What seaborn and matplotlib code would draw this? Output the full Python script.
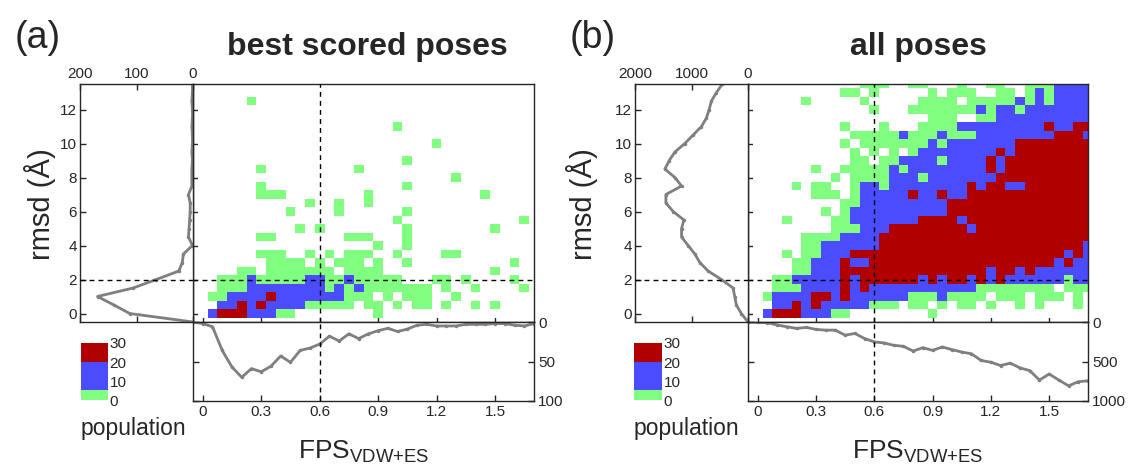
import numpy as np
import pandas as pd
import matplotlib
matplotlib.use('Agg')
import matplotlib.pyplot as plt
from matplotlib.colors import ListedColormap, BoundaryNorm
import seaborn as sns

sns.set_theme(style='ticks')
plt.rcParams['font.family'] = ['Liberation Sans', 'DejaVu Sans']
plt.rcParams['mathtext.fontset'] = 'custom'
plt.rcParams['mathtext.rm'] = 'Liberation Sans'
plt.rcParams['mathtext.it'] = 'Liberation Sans:italic'
plt.rcParams['mathtext.bf'] = 'Liberation Sans:bold'

# ---------------- data ----------------
FPS_CENTERS = [0.0, 0.05, 0.1, 0.15, 0.2, 0.25, 0.3, 0.35, 0.4, 0.45, 0.5, 0.55,
               0.6, 0.65, 0.7, 0.75, 0.8, 0.85, 0.9, 0.95, 1.0, 1.05, 1.1, 1.15,
               1.2, 1.25, 1.3, 1.35, 1.4, 1.45, 1.5, 1.55, 1.6, 1.65, 1.7]
RMSD_CENTERS = [0.0, 0.5, 1.0, 1.5, 2.0, 2.5, 3.0, 3.5, 4.0, 4.5, 5.0, 5.5, 6.0, 6.5,
                7.0, 7.5, 8.0, 8.5, 9.0, 9.5, 10.0, 10.5, 11.0, 11.5, 12.0, 12.5, 13.0, 13.5]

# population level per cell, rows from rmsd 0 (bottom) to 13.5 (top)
# '.' empty, 'g' low, 'b' medium, 'r' high
GRID_A = [
    ".brrrbbbgg........g................",
    "..bbrbrbbbbggggg.gg.g.gg.g..g.g....",
    ".ggbbbbrbbbbbbbggg.g.ggg..g........",
    "..gggbbbbbbbbgbgbggggggg.g..g....g.",
    "..gggbgggggbbggbggggg...gg.g....g..",
    "....gg.ggggggg.gggg...........g....",
    ".......gggg.g.ggg.g..g..........g..",
    "......ggg..g.g.ggg..g....gg........",
    "..................g..g.............",
    "......gg.......ggg...g.............",
    "..........g.g........g........g....",
    "....................g............g.",
    ".........g....g......g.............",
    "...........g..g..g.................",
    "......ggg........g...........g.....",
    "......g..............g.............",
    "..........................g........",
    "......g.........g..................",
    ".....................g.............",
    "...................................",
    "........................g..........",
    "...................................",
    "....................g..............",
    "...................................",
    "...................................",
    ".....g.............................",
    "...................................",
    "...................................",
]

GRID_B = [
    ".brrrbbbgg........g................",
    "..bbrbrbbbbbggg.gg.g.gg.g..g.g...g.",
    ".gbbbbrrbrbbbbbbgggbgggg.ggg.ggg.g.",
    "..gggbbbbrbrbbbbbbbbbbbgggggggg.ggg",
    "..ggbbbbbrbrrrrrrbrbrrbrbrbbbbbbgbb",
    "....ggbbbrrrrrrrrrrrrrrrbrrbrbbbbbb",
    "....ggbbbrbbrrrrrrrrrrrrrrrrrrrbrbb",
    "...g.ggbbbrrrrrrrrrrrrrrrrrrrrrrbrb",
    ".....ggbbbbbbrrrrrrrrrrrrrrrrrrrrrb",
    ".....ggggbbbbrrrrrrrrrrrrrrrrrrrrrr",
    "........gggbbbrrrrrrrrbrrrrrrrrrrrr",
    "...g....ggbbbbbbbrrrrbrrrrrrrrrrrrr",
    ".......g.gbbbbbbbbbbrrrrrrrrrrrrrrr",
    ".........ggbbbbbbbbbrrrrrrrrrrrrrrr",
    "......ggg.gbbbbbrbbrbbrrrrrrrrrrrrr",
    "....g.gg..gbbgbbbbbbbbrbrrbbrrrrrrr",
    "........g.ggggbbbgbbbbbbbrrrrrrrrrr",
    "......g..gggggbgbbbbbbbbrbrrrrrrrrr",
    "..........gg.ggbbbbgbbbbrbrrrrrrrrr",
    "..........g.g.g.gbbbbbbbbrbrrrrrrrr",
    ".........g.gggggggbgbbbbbbbrrrrrrrr",
    "..........gggggbgggbgggbbbbbbbbrrrb",
    ".........g...g...ggggbbbbbbbbbrbbrr",
    "..................ggg..ggbbbbbbbbbb",
    "............g...gggggggbgbbgbbbbbbb",
    ".....g.....g.....gggg.gggggbgbgbbbb",
    ".........gg.g.....g.ggg..gg.gbgbbbb",
    "...........ggg..gg...g..gg..gggbbbb",
]

LEVEL_COUNTS = {'.': 0, 'g': 3, 'b': 12, 'r': 25}
CELL_COLORS = ['#FFFFFF', '#80FF80', '#4C4CFF', '#B00000']
CBAR_BOUNDS = [0, 0.5, 5.5, 20, 30]
CBAR_TICKS = [0, 10, 20, 30]

MARG_RMSD = [-0.5, 0.0, 0.5, 1.0, 1.5, 2.0, 2.5, 3.0, 3.5, 4.0, 4.5, 5.0, 5.5, 6.0, 6.5,
             7.0, 7.5, 8.0, 8.5, 9.0, 9.5, 10.0, 10.5, 11.0, 11.5, 12.0, 12.5, 13.0, 13.5]
A_RMSD_POP = [0, 112, 140, 169, 106, 65, 25, 19, 17, 1, 8, 7, 6, 5, 5,
              8, 2, 2, 2, 1, 2, 1, 1, 2, 1, 1, 2, 1, 1]
B_RMSD_POP = [0, 118, 206, 235, 265, 471, 706, 853, 941, 1059, 1176, 1176, 1135, 1324, 1453,
              1453, 1176, 1294, 1471, 1394, 1294, 1118, 971, 824, 735, 688, 647, 559, 453]

MARG_FPS = [-0.05, 0.0, 0.05, 0.1, 0.15, 0.2, 0.25, 0.3, 0.35, 0.4, 0.45, 0.5, 0.55, 0.6,
            0.65, 0.7, 0.75, 0.8, 0.85, 0.9, 0.95, 1.0, 1.05, 1.1, 1.15, 1.2, 1.25, 1.3,
            1.35, 1.4, 1.45, 1.5, 1.55, 1.6, 1.65, 1.7]
A_FPS_POP = [0, 2, 6, 36, 57, 70, 59, 63, 56, 43, 51, 36, 33, 28, 18, 24, 15, 21, 15, 11,
             8, 12, 9, 4, 3, 5, 5, 5, 3, 3, 3, 2, 2, 4, 5, 2]
B_FPS_POP = [0, 5, 9, 38, 60, 81, 68, 94, 103, 103, 167, 145, 209, 252, 265, 295, 308, 368,
             325, 359, 316, 350, 380, 402, 487, 509, 551, 521, 581, 615, 735, 658, 735, 808,
             756, 744]

X_TICKS = [0, 0.3, 0.6, 0.9, 1.2, 1.5]
X_TICKLABELS = ['0', '0.3', '0.6', '0.9', '1.2', '1.5']
Y_TICKS = [0, 2, 4, 6, 8, 10, 12]
Y_TICKLABELS = ['0', '2', '4', '6', '8', '10', '12']
FPS_LIM = (-0.05, 1.7)
RMSD_LIM = (-0.5, 13.5)
RMSD_CUT = 2.0
FPS_CUT = 0.6

PANELS = [
    dict(letter='(a)', title='best scored poses', grid=GRID_A,
         rmsd_pop=A_RMSD_POP, fps_pop=A_FPS_POP,
         left_max=200, left_ticks=[200, 100, 0], bottom_max=100, bottom_ticks=[0, 50, 100],
         px_left=80, px_main=193, px_right=534, px_cbar=(81, 108),
         px_letter=15, px_title=367, px_ylabel=40),
    dict(letter='(b)', title='all poses', grid=GRID_B,
         rmsd_pop=B_RMSD_POP, fps_pop=B_FPS_POP,
         left_max=2000, left_ticks=[2000, 1000, 0], bottom_max=1000, bottom_ticks=[0, 500, 1000],
         px_left=635, px_main=748, px_right=1088, px_cbar=(634, 662),
         px_letter=570, px_title=918, px_ylabel=582),
]

# ---------------- layout ----------------
W, H = 1128, 470
PX_TOP, PX_MID, PX_BOT = 84, 322, 401
PX_CB_TOP = 343


def rect(x0, y0, x1, y1):
    return [x0 / W, 1 - y1 / H, (x1 - x0) / W, (y1 - y0) / H]


fig = plt.figure(figsize=(W / 100, H / 100), dpi=100)
cmap = ListedColormap(CELL_COLORS)
norm = BoundaryNorm(CBAR_BOUNDS, cmap.N)
LINE_C = '#7f7f7f'
SPINE_C = '#262626'
TICK_FS = 11
DASH = dict(color='black', lw=1.0, ls=(0, (3.5, 3)), zorder=6)

dx = FPS_CENTERS[1] - FPS_CENTERS[0]
dy = RMSD_CENTERS[1] - RMSD_CENTERS[0]


def xpos(v):
    return (v - FPS_CENTERS[0]) / dx + 0.5


def ypos(v):
    return (v - RMSD_CENTERS[0]) / dy + 0.5


def style_spines(ax):
    for s in ax.spines.values():
        s.set_visible(True)
        s.set_color(SPINE_C)
        s.set_linewidth(1.0)


for p in PANELS:
    # ---- main heatmap ----
    ax = fig.add_axes(rect(p['px_main'], PX_TOP, p['px_right'], PX_MID))
    rows = [row.ljust(len(FPS_CENTERS), '.')[:len(FPS_CENTERS)] for row in p['grid']]
    df = pd.DataFrame([[LEVEL_COUNTS[c] for c in row] for row in rows],
                      index=RMSD_CENTERS, columns=FPS_CENTERS)
    sns.heatmap(df, ax=ax, cmap=cmap, norm=norm, cbar=False,
                xticklabels=False, yticklabels=False, linewidths=0)
    ax.set_xlim(xpos(FPS_LIM[0]), xpos(FPS_LIM[1]))
    ax.set_ylim(ypos(RMSD_LIM[0]), ypos(RMSD_LIM[1]))
    ax.set_xticks([xpos(t) for t in X_TICKS])
    ax.set_yticks([ypos(t) for t in Y_TICKS])
    ax.set_xticklabels([])
    ax.set_yticklabels([])
    ax.set_xlabel('')
    ax.set_ylabel('')
    ax.tick_params(direction='in', length=4, width=1, color=SPINE_C,
                   top=True, bottom=True, left=True, right=True)
    style_spines(ax)
    ax.axhline(ypos(RMSD_CUT), **DASH)
    ax.axvline(xpos(FPS_CUT), **DASH)

    # ---- left marginal (rmsd distribution) ----
    axl = fig.add_axes(rect(p['px_left'], PX_TOP, p['px_main'], PX_MID))
    sns.lineplot(x=p['rmsd_pop'], y=MARG_RMSD, sort=False, estimator=None, ax=axl,
                 color=LINE_C, lw=2, marker='o', markersize=2.5, markeredgewidth=0)
    axl.set_xlim(p['left_max'], 0)
    axl.set_ylim(*RMSD_LIM)
    axl.set_xticks(p['left_ticks'])
    axl.set_xticklabels([str(t) for t in p['left_ticks']])
    axl.set_yticks(Y_TICKS)
    axl.set_yticklabels(Y_TICKLABELS)
    axl.xaxis.tick_top()
    axl.tick_params(direction='in', length=4, width=1, color=SPINE_C, labelsize=TICK_FS,
                    top=True, bottom=True, left=True, right=False,
                    labeltop=True, labelbottom=False, labelleft=True, pad=2)
    axl.set_xlabel('')
    axl.set_ylabel('')
    style_spines(axl)
    axl.axhline(RMSD_CUT, **DASH)

    # ---- bottom marginal (FPS distribution) ----
    axb = fig.add_axes(rect(p['px_main'], PX_MID, p['px_right'], PX_BOT))
    sns.lineplot(x=MARG_FPS, y=p['fps_pop'], sort=False, estimator=None, ax=axb,
                 color=LINE_C, lw=2, marker='o', markersize=2.5, markeredgewidth=0)
    axb.set_xlim(*FPS_LIM)
    axb.set_ylim(p['bottom_max'], 0)
    axb.set_xticks(X_TICKS)
    axb.set_xticklabels(X_TICKLABELS)
    axb.set_yticks(p['bottom_ticks'])
    axb.set_yticklabels([str(t) for t in p['bottom_ticks']])
    axb.yaxis.tick_right()
    axb.tick_params(direction='in', length=4, width=1, color=SPINE_C, labelsize=TICK_FS,
                    top=False, bottom=True, left=True, right=True,
                    labelright=True, labelleft=False, labelbottom=True, pad=3)
    axb.set_xlabel('')
    axb.set_ylabel('')
    style_spines(axb)
    axb.axvline(FPS_CUT, **DASH)

    # ---- colorbar ----
    cx0, cx1 = p['px_cbar']
    cax = fig.add_axes(rect(cx0, PX_CB_TOP, cx1, PX_BOT))
    cb = fig.colorbar(ax.collections[0], cax=cax, ticks=CBAR_TICKS,
                      spacing='proportional', boundaries=CBAR_BOUNDS)
    cb.outline.set_visible(False)
    cb.minorticks_off()
    cax.tick_params(which='both', length=0, labelsize=TICK_FS, pad=1)
    cax.set_yticklabels([str(t) for t in CBAR_TICKS])

    # ---- texts ----
    fig.text(cx0 / W, 1 - 429 / H, 'population', fontsize=16.5, ha='left', va='center')
    fig.text((p['px_main'] + p['px_right']) / 2 / W, 1 - 452 / H,
             r'FPS$_{\mathrm{VDW{+}ES}}$', fontsize=19, ha='center', va='center')
    fig.text(p['px_ylabel'] / W, 1 - 204 / H, 'rmsd (Å)', fontsize=21,
             rotation=90, ha='center', va='center')
    fig.text(p['px_letter'] / W, 1 - 38 / H, p['letter'], fontsize=27,
             ha='left', va='center')
    fig.text(p['px_title'] / W, 1 - 47 / H, p['title'], fontsize=23,
             fontweight='bold', ha='center', va='center')

fig.savefig('out.png', dpi=100)
